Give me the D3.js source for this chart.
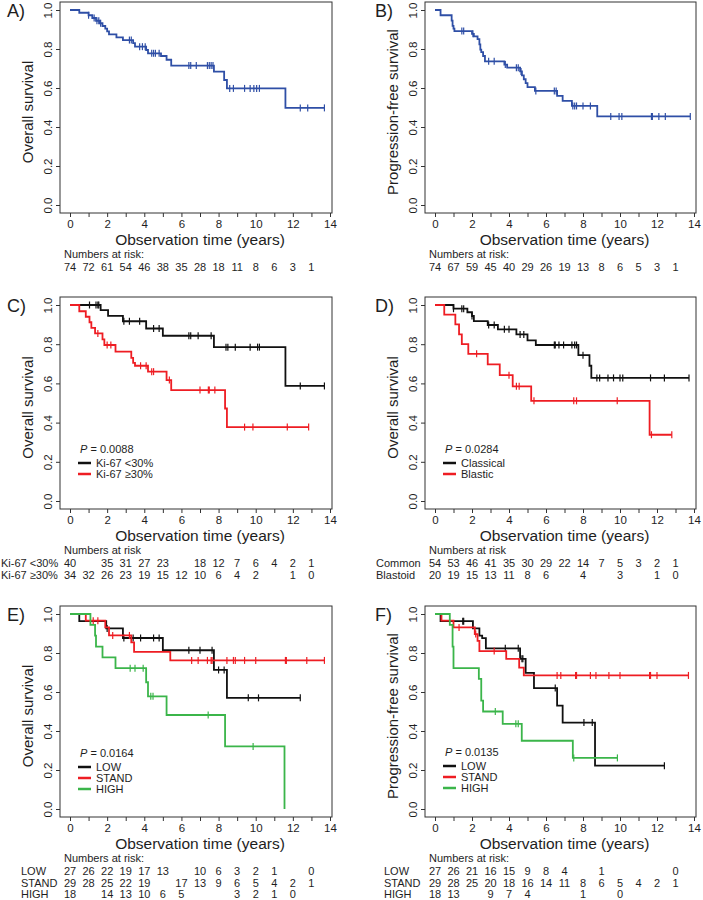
<!DOCTYPE html>
<html>
<head>
<meta charset="utf-8">
<script src="https://cdn.jsdelivr.net/npm/d3@7"></script>
<style>
  body { margin: 0; background: #fff; }
  svg { display: block; font-family: "Liberation Sans", Arial, sans-serif; }
</style>
</head>
<body>
<svg id="km_svg" width="703" height="900"></svg>
<script>
// ---- data ----
var yearTicks = d3.range(0, 15);
var survTicks = [0, 0.2, 0.4, 0.6, 0.8, 1.0];
var riskYears = d3.range(0, 14);

// A) overall survival, all patients  [time, survival after step]
var osAllSteps = [[0.5,0.986],[1.0,0.973],[1.2,0.959],[1.4,0.945],[1.6,0.932],[1.75,0.918],[1.9,0.904],[2.0,0.89],[2.1,0.875],[2.5,0.86],[2.85,0.846],[3.4,0.83],[3.5,0.812],[4.1,0.795],[4.2,0.778],[4.9,0.764],[5.2,0.745],[5.45,0.715],[7.75,0.684],[8.3,0.641],[8.45,0.598],[11.6,0.498]];
var osAllCensor = [1.0,1.3,1.45,1.55,1.65,3.2,3.3,3.75,3.9,4.05,4.4,4.5,4.6,4.8,6.4,6.5,6.8,7.4,7.5,7.6,7.7,8.6,8.8,9.4,9.7,9.9,10.05,10.2,12.4,12.8,13.7];
var osAllRisk = [74,72,61,54,46,38,35,28,18,11,8,6,3,1];

// B) progression-free survival, all patients
var pfsAllSteps = [[0.3,0.973],[0.9,0.946],[0.95,0.919],[1.0,0.905],[1.05,0.892],[2.0,0.878],[2.1,0.865],[2.3,0.851],[2.4,0.824],[2.45,0.797],[2.5,0.784],[2.6,0.764],[2.7,0.737],[3.75,0.72],[3.9,0.704],[4.6,0.685],[4.7,0.665],[4.8,0.645],[4.9,0.625],[5.0,0.604],[5.4,0.585],[6.6,0.56],[6.9,0.534],[7.4,0.508],[8.77,0.454]];
var pfsAllCensor = [1.45,1.55,2.05,2.9,3.2,3.8,4.4,4.5,4.65,5.45,6.45,6.55,7.45,7.55,7.65,8.0,8.4,9.5,9.95,10.1,11.7,11.75,12.1,12.45,13.8];
var pfsAllRisk = [74,67,59,45,40,29,26,19,13,8,6,5,3,1];

// C) overall survival by Ki-67
var ki67LowSteps = [[1.65,0.974],[2.05,0.945],[2.85,0.917],[4.1,0.88],[5.0,0.843],[7.75,0.785],[11.6,0.587]];
var ki67LowCensor = [1.05,1.4,1.5,1.55,2.9,3.2,3.75,4.5,4.8,6.4,6.5,6.9,7.6,8.4,8.5,8.9,9.7,10.1,10.2,12.4,13.7];
var ki67HighSteps = [[0.5,0.968],[0.85,0.94],[1.05,0.912],[1.15,0.883],[1.35,0.855],[1.75,0.825],[1.85,0.796],[2.45,0.762],[3.3,0.73],[3.4,0.705],[3.5,0.69],[4.2,0.66],[5.2,0.617],[5.45,0.566],[8.35,0.472],[8.45,0.377]];
var ki67HighCensor = [1.5,2.0,2.2,3.8,4.1,4.4,4.5,5.35,7.0,7.45,7.5,7.8,9.4,9.85,11.7,12.85];
var ki67LowRisk = [40,null,35,31,27,23,null,18,12,7,6,4,2,1];
var ki67HighRisk = [34,32,26,23,19,15,12,10,6,4,2,null,1,0];

// D) overall survival by morphology
var classicSteps = [[1.0,0.981],[1.75,0.963],[2.0,0.944],[2.1,0.918],[2.85,0.898],[3.4,0.876],[4.4,0.85],[5.0,0.82],[5.45,0.796],[7.75,0.744],[8.35,0.69],[8.45,0.628]];
var classicCensor = [1.0,1.45,1.55,2.0,2.9,3.2,3.75,4.0,4.6,4.8,6.45,6.5,6.7,6.95,7.4,7.55,7.65,8.0,8.75,8.9,9.35,9.65,10.0,10.15,11.65,12.4,13.73];
var blasticSteps = [[0.5,0.951],[1.1,0.901],[1.3,0.85],[1.45,0.8],[1.8,0.751],[2.85,0.697],[3.5,0.642],[4.2,0.585],[5.2,0.511],[11.6,0.338]];
var blasticCensor = [2.25,4.0,4.4,4.55,5.35,7.5,7.65,9.85,11.7,12.8];
var commonRisk = [54,53,46,41,35,30,29,22,14,7,5,3,2,1];
var blastoidRisk = [20,19,15,13,11,8,6,null,4,null,3,null,1,0];

// E) overall survival by risk group
var osLowSteps = [[0.5,0.963],[1.95,0.926],[2.85,0.877],[5.0,0.814],[7.75,0.713],[8.45,0.57]];
var osLowCensor = [2.0,2.9,3.4,3.8,4.5,4.8,6.4,7.0,7.65,8.0,8.3,9.6,10.15,12.4];
var osStandSteps = [[0.85,0.966],[1.9,0.931],[2.1,0.89],[3.3,0.855],[3.45,0.806],[5.4,0.762]];
var osStandCensor = [1.25,1.5,2.3,3.2,6.55,6.9,7.4,7.6,7.65,8.45,8.8,8.9,9.4,10.0,11.6,11.65,12.75,13.7];
var osHighSteps = [[1.1,0.944],[1.35,0.889],[1.4,0.833],[1.75,0.778],[2.45,0.722],[4.1,0.65],[4.2,0.578],[5.2,0.482],[8.35,0.321],[11.55,0]];
var osHighCensor = [3.24,3.5,3.94,4.35,4.47,7.44,9.86];
var osLowRisk = [27,26,22,19,17,13,null,10,6,3,2,1,null,0];
var osStandRisk = [29,28,25,22,19,null,17,13,9,6,5,4,2,1];
var osHighRisk = [18,null,14,13,10,6,5,null,null,3,2,1,0,null];

// F) progression-free survival by risk group
var pfsLowSteps = [[0.3,0.963],[2.05,0.926],[2.4,0.889],[2.55,0.876],[2.75,0.824],[4.6,0.77],[4.9,0.698],[5.35,0.62],[6.6,0.53],[6.9,0.443],[8.65,0.222]];
var pfsLowCensor = [1.5,1.55,3.8,4.5,4.7,4.75,6.5,8.05,8.5,12.4];
var pfsStandSteps = [[0.35,0.966],[1.0,0.931],[2.15,0.897],[2.3,0.862],[2.4,0.81],[3.85,0.77],[4.55,0.725],[4.8,0.685]];
var pfsStandCensor = [1.3,2.2,3.2,6.6,6.8,7.6,7.65,8.4,8.7,9.4,10.0,11.6,11.65,12.0,13.7];
var pfsHighSteps = [[0.8,0.944],[0.95,0.833],[1.0,0.722],[2.37,0.667],[2.5,0.556],[2.6,0.5],[3.66,0.437],[4.69,0.35],[7.45,0.262]];
var pfsHighCensor = [3.26,4.37,4.5,7.5,9.86];
var pfsLowRisk = [27,26,21,16,15,9,8,4,null,1,null,null,null,0];
var pfsStandRisk = [29,28,25,20,18,16,14,11,8,6,5,4,2,1];
var pfsHighRisk = [18,13,null,9,7,4,null,null,1,null,0,null,null,null];

// ---- styling ----
var blue = "#2f4fa6", red = "#ee1d23", green = "#3bb54a", black = "#111111";
var textCol = "#1e1e1e";

var cols = [{x0: 70, x14: 330, letterX: 7}, {x0: 435, x14: 694, letterX: 375}];
var rows = [{y1: 10, y0: 205}, {y1: 305, y0: 501}, {y1: 614, y0: 809}];

var panels = [
  {letter: "A)", col: 0, row: 0, ylab: "Overall survival",
   curves: [{steps: osAllSteps, censor: osAllCensor, color: blue}],
   header: "Numbers at risk:", groupX: 0,
   risk: [{label: "", values: osAllRisk}]},
  {letter: "B)", col: 1, row: 0, ylab: "Progression-free survival",
   curves: [{steps: pfsAllSteps, censor: pfsAllCensor, color: blue}],
   header: "Numbers at risk:", groupX: 0,
   risk: [{label: "", values: pfsAllRisk}]},
  {letter: "C)", col: 0, row: 1, ylab: "Overall survival",
   curves: [{steps: ki67LowSteps, censor: ki67LowCensor, color: black, name: "Ki-67 <30%"},
            {steps: ki67HighSteps, censor: ki67HighCensor, color: red, name: "Ki-67 \u226530%"}],
   pval: "0.0088", legendOff: 48,
   header: "Numbers at risk", groupX: 1,
   risk: [{label: "Ki-67 <30%", values: ki67LowRisk}, {label: "Ki-67 \u226530%", values: ki67HighRisk}]},
  {letter: "D)", col: 1, row: 1, ylab: "Overall survival",
   curves: [{steps: classicSteps, censor: classicCensor, color: black, name: "Classical"},
            {steps: blasticSteps, censor: blasticCensor, color: red, name: "Blastic"}],
   pval: "0.0284", legendOff: 48,
   header: "Numbers at risk", groupX: 376,
   risk: [{label: "Common", values: commonRisk}, {label: "Blastoid", values: blastoidRisk}]},
  {letter: "E)", col: 0, row: 2, ylab: "Overall survival",
   curves: [{steps: osLowSteps, censor: osLowCensor, color: black, name: "LOW"},
            {steps: osStandSteps, censor: osStandCensor, color: red, name: "STAND"},
            {steps: osHighSteps, censor: osHighCensor, color: green, name: "HIGH"}],
   pval: "0.0164", legendOff: 52,
   header: "Numbers at risk:", groupX: 21,
   risk: [{label: "LOW", values: osLowRisk}, {label: "STAND", values: osStandRisk}, {label: "HIGH", values: osHighRisk}]},
  {letter: "F)", col: 1, row: 2, ylab: "Progression-free survival",
   curves: [{steps: pfsLowSteps, censor: pfsLowCensor, color: black, name: "LOW"},
            {steps: pfsStandSteps, censor: pfsStandCensor, color: red, name: "STAND"},
            {steps: pfsHighSteps, censor: pfsHighCensor, color: green, name: "HIGH"}],
   pval: "0.0135", legendOff: 53,
   header: "Numbers at risk:", groupX: 384,
   risk: [{label: "LOW", values: pfsLowRisk}, {label: "STAND", values: pfsStandRisk}, {label: "HIGH", values: pfsHighRisk}]}
];

var svg = d3.select("#km_svg");
svg.append("rect").attr("width", 703).attr("height", 900).attr("fill", "#fff");

// survival value just after time t
var survAt = function(steps, t) {
  var s = 1;
  steps.forEach(function(p) { if (p[0] <= t) s = p[1]; });
  return s;
};

var draw_panel = function(p) {
  var c = cols[p.col], r = rows[p.row];
  var x = d3.scaleLinear().domain([0, 14]).range([c.x0, c.x14]);
  var y = d3.scaleLinear().domain([0, 1]).range([r.y0, r.y1]);
  var boxL = c.x0 - 10, boxR = c.x14 + 2, boxT = r.y1 - 8, boxB = r.y0 + 8;

  var g = svg.append("g");

  // axes
  var xAxis = d3.axisBottom(x).tickValues(yearTicks).tickSize(4).tickPadding(3)
    .tickFormat(function(d) { return d % 2 === 0 ? d : ""; });
  var gx = g.append("g").attr("transform", "translate(0," + boxB + ")").call(xAxis);
  gx.select(".domain").remove();
  gx.selectAll("line").attr("stroke", "#333");
  gx.selectAll("text").attr("font-size", 11.5).attr("fill", textCol).attr("font-family", null);

  var yAxis = d3.axisLeft(y).tickValues(survTicks).tickSize(4).tickFormat(d3.format(".1f"));
  var gy = g.append("g").attr("transform", "translate(" + boxL + ",0)").call(yAxis);
  gy.select(".domain").remove();
  gy.selectAll("line").attr("stroke", "#333");
  gy.selectAll("text").attr("font-size", 11.5).attr("fill", textCol).attr("font-family", null)
    .attr("x", null).attr("dy", null).attr("text-anchor", "middle")
    .attr("transform", "translate(-8,0) rotate(-90)");

  g.append("rect").attr("x", boxL).attr("y", boxT)
    .attr("width", boxR - boxL).attr("height", boxB - boxT)
    .attr("fill", "none").attr("stroke", "#333").attr("stroke-width", 1);

  // titles
  g.append("text").attr("x", (c.x0 + c.x14) / 2).attr("y", r.y0 + 40)
    .attr("text-anchor", "middle").attr("font-size", 15.5).attr("fill", textCol)
    .text("Observation time (years)");
  var ly = (r.y0 + r.y1) / 2 + 4.5;
  g.append("text").attr("transform", "translate(" + (boxL - 27) + "," + ly + ") rotate(-90)")
    .attr("text-anchor", "middle").attr("font-size", 15).attr("fill", textCol)
    .text(p.ylab);
  g.append("text").attr("x", c.letterX).attr("y", r.y1 + 7)
    .attr("font-size", 18).attr("fill", textCol).text(p.letter);

  // curves
  var line = d3.line().curve(d3.curveStepAfter)
    .x(function(d) { return x(d[0]); }).y(function(d) { return y(d[1]); });
  p.curves.forEach(function(cv) {
    var last = cv.steps[cv.steps.length - 1];
    var end = Math.max(last[0], d3.max(cv.censor));
    var pts = [[0, 1]].concat(cv.steps).concat([[end, last[1]]]);
    g.append("path").datum(pts).attr("d", line)
      .attr("fill", "none").attr("stroke", cv.color).attr("stroke-width", 1.8);
    g.append("g").selectAll("line").data(cv.censor).enter().append("line")
      .attr("x1", function(t) { return x(t); }).attr("x2", function(t) { return x(t); })
      .attr("y1", function(t) { return y(survAt(cv.steps, t)) - 3.5; })
      .attr("y2", function(t) { return y(survAt(cv.steps, t)) + 3.5; })
      .attr("stroke", cv.color).attr("stroke-width", 1.2);
  });

  // legend
  if (p.pval) {
    var legY = r.y0 - p.legendOff;
    var pt = g.append("text").attr("x", c.x0 + 10).attr("y", legY)
      .attr("font-size", 11).attr("fill", textCol);
    pt.append("tspan").attr("font-style", "italic").text("P");
    pt.append("tspan").text(" = " + p.pval);
    p.curves.forEach(function(cv, i) {
      var yy = legY + 10 + i * 11;
      g.append("line").attr("x1", c.x0 + 8).attr("x2", c.x0 + 21)
        .attr("y1", yy).attr("y2", yy).attr("stroke", cv.color).attr("stroke-width", 2.5);
      g.append("text").attr("x", c.x0 + 26).attr("y", yy + 4)
        .attr("font-size", 11).attr("fill", textCol).text(cv.name);
    });
  }

  // numbers at risk
  g.append("text").attr("x", c.x0 - 6).attr("y", r.y0 + 52.5)
    .attr("font-size", 11).attr("fill", textCol).text(p.header);
  p.risk.forEach(function(rk, i) {
    var yy = r.y0 + 66 + i * 11.5;
    if (rk.label) {
      g.append("text").attr("x", p.groupX).attr("y", yy)
        .attr("font-size", 11).attr("fill", textCol).text(rk.label);
    }
    g.append("g").selectAll("text")
      .data(riskYears.filter(function(yr) { return rk.values[yr] !== null; }))
      .enter().append("text")
      .attr("x", function(yr) { return x(yr); }).attr("y", yy)
      .attr("text-anchor", "middle").attr("font-size", 11).attr("fill", textCol)
      .text(function(yr) { return rk.values[yr]; });
  });
};

panels.forEach(draw_panel);
</script>
</body>
</html>
